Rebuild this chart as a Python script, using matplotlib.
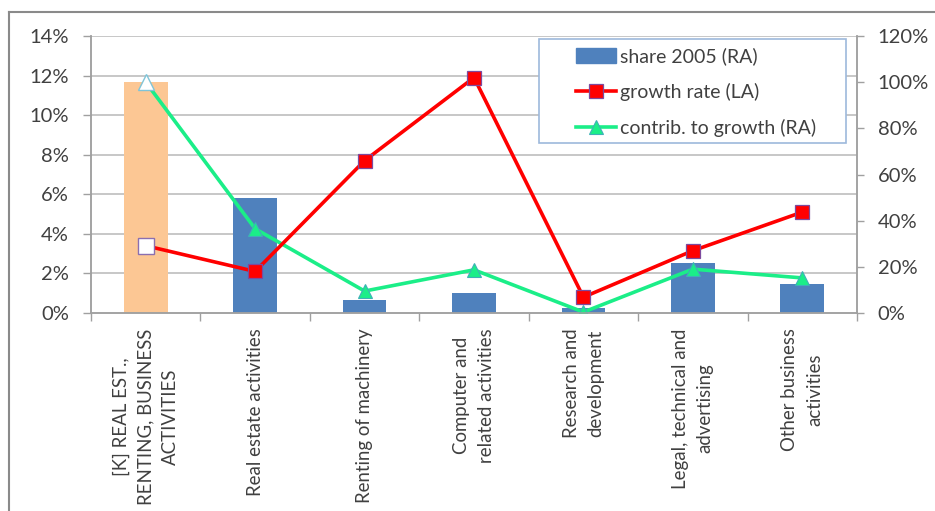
import matplotlib
matplotlib.use("Agg")
import matplotlib.pyplot as plt
from matplotlib.lines import Line2D
from matplotlib.patches import Patch, Rectangle
from matplotlib.ticker import PercentFormatter, FixedLocator

# ---- data -------------------------------------------------------------
categories = [
    "[K] REAL EST.,\nRENTING, BUSINESS\nACTIVITIES",
    "Real estate activities",
    "Renting of machinery",
    "Computer and\nrelated activities",
    "Research and\ndevelopment",
    "Legal, technical and\nadvertising",
    "Other business\nactivities",
]
share_2005 = [100, 50, 5.5, 8.5, 2.0, 21.5, 12.5]      # right axis, %
growth_rate = [3.4, 2.1, 7.7, 11.9, 0.8, 3.15, 5.1]    # left axis, %
contrib_growth = [100, 36.5, 9.5, 18.7, 0.4, 19.0, 15.2]  # right axis, %

left_ticks = [0, 2, 4, 6, 8, 10, 12, 14]
right_ticks = [0, 20, 40, 60, 80, 100, 120]
legend_labels = ["share 2005 (RA)", "growth rate (LA)", "contrib. to growth (RA)"]

# ---- style ------------------------------------------------------------
FONT = ["Lato", "DejaVu Sans"]
plt.rcParams["font.family"] = FONT
TXT = "#404040"
GRID = "#B8B8B8"
AXC = "#A0A0A0"
BLUE = "#4F81BD"
ORANGE = "#FCC794"
RED = "#FF0000"
GREEN = "#1BEE88"

W, H = 935, 511
fig = plt.figure(figsize=(W / 100, H / 100), dpi=100)
fig.patch.set_facecolor("white")

x0, x1, y0, y1 = 91, 857, 313, 36
ax_r = fig.add_axes([x0 / W, 1 - y0 / H, (x1 - x0) / W, (y0 - y1) / H])
ax_l = ax_r.twinx()

ra_max = right_ticks[-1]
la_max = left_ticks[-1]
ax_r.set_ylim(0, ra_max)
ax_l.set_ylim(0, la_max)
n = len(categories)
xs = list(range(n))
ax_r.set_xlim(-0.5, n - 0.5)

# horizontal grid at the left-axis tick levels, drawn beneath the bars
for v in left_ticks[1:]:
    ax_r.axhline(v * ra_max / la_max, color=GRID, lw=1.1, zorder=0)

# bars (right axis); the aggregate sector is highlighted
bar_colors = [ORANGE] + [BLUE] * (n - 1)
ax_r.bar(xs, share_2005, width=0.4, color=bar_colors, zorder=2)

# contribution to growth (right axis)
ax_r.plot(xs, contrib_growth, color=GREEN, lw=2.6, zorder=3,
          marker="^", markersize=10, markerfacecolor=GREEN,
          markeredgecolor="#3FB0B8", markeredgewidth=0.8,
          markevery=list(range(1, n)))
ax_r.plot(xs[:1], contrib_growth[:1], ls="none", marker="^", markersize=11,
          markerfacecolor="white", markeredgecolor="#7FC4D8",
          markeredgewidth=1.0, zorder=4)

# growth rate (left axis)
ax_l.plot(xs, growth_rate, color=RED, lw=2.6, zorder=3,
          marker="s", markersize=10, markerfacecolor=RED,
          markeredgecolor="#7D4A9E", markeredgewidth=0.9,
          markevery=list(range(1, n)))
ax_l.plot(xs[:1], growth_rate[:1], ls="none", marker="s", markersize=11,
          markerfacecolor="white", markeredgecolor="#8B6FB0",
          markeredgewidth=1.0, zorder=4)

# ---- axes -------------------------------------------------------------
ax_l.yaxis.tick_left()
ax_r.yaxis.tick_right()
ax_l.set_yticks(left_ticks)
ax_r.set_yticks(right_ticks)
ax_l.yaxis.set_major_formatter(PercentFormatter(decimals=0))
ax_r.yaxis.set_major_formatter(PercentFormatter(decimals=0))
ax_l.tick_params(axis="y", direction="out", length=6, width=1, color=AXC,
                 pad=10, labelsize=14.5, labelcolor=TXT)
ax_r.tick_params(axis="y", direction="out", length=5, width=1, color=AXC,
                 pad=10, labelsize=14.5, labelcolor=TXT)

ax_r.set_xticks(xs)
ax_r.set_xticklabels(categories, rotation=90, ha="center", va="top",
                     multialignment="center", fontsize=13.4, color=TXT,
                     linespacing=1.55)
ax_r.xaxis.set_minor_locator(FixedLocator([i - 0.5 for i in range(n + 1)]))
ax_r.tick_params(axis="x", which="major", length=0, pad=11)
ax_r.tick_params(axis="x", which="minor", length=6, width=1, color=AXC,
                 direction="out")
ax_l.tick_params(axis="x", which="both", length=0, labelbottom=False)

for a in (ax_l, ax_r):
    a.spines["top"].set_visible(False)
    for s in ("left", "right", "bottom"):
        a.spines[s].set_color(AXC)
        a.spines[s].set_linewidth(1.1)

# ---- legend -----------------------------------------------------------
lx0, lx1, ly0, ly1 = 539, 846, 39, 143
frame = Rectangle((lx0 / W, 1 - ly1 / H), (lx1 - lx0) / W, (ly1 - ly0) / H,
                  transform=fig.transFigure, facecolor="white",
                  edgecolor="#9DB9DC", lw=1.2, zorder=10)
fig.add_artist(frame)
handles = [
    Patch(facecolor=BLUE, edgecolor=BLUE),
    Line2D([], [], color=RED, lw=2.6, marker="s", markersize=10,
           markerfacecolor=RED, markeredgecolor="#7D4A9E", markeredgewidth=0.9),
    Line2D([], [], color=GREEN, lw=2.6, marker="^", markersize=10,
           markerfacecolor=GREEN, markeredgecolor="#3FB0B8", markeredgewidth=0.8),
]
leg = fig.legend(handles, legend_labels, loc="upper left",
                 bbox_to_anchor=(566 / W, 1 - 38 / H),
                 bbox_transform=fig.transFigure, frameon=False,
                 fontsize=14, labelcolor=TXT, borderpad=0,
                 handlelength=2.05, handleheight=0.8, handletextpad=0.25,
                 labelspacing=0.9)
leg.set_zorder(11)

# ---- outer chart border ----------------------------------------------
fig.add_artist(Line2D([9 / W, 1], [1 - 12 / H, 1 - 12 / H],
                      transform=fig.transFigure, color="#8A8A8A", lw=1.5))
fig.add_artist(Line2D([9 / W, 9 / W], [1 - 12 / H, 0],
                      transform=fig.transFigure, color="#8A8A8A", lw=1.5))

fig.savefig("out.png", dpi=100, facecolor="white")
